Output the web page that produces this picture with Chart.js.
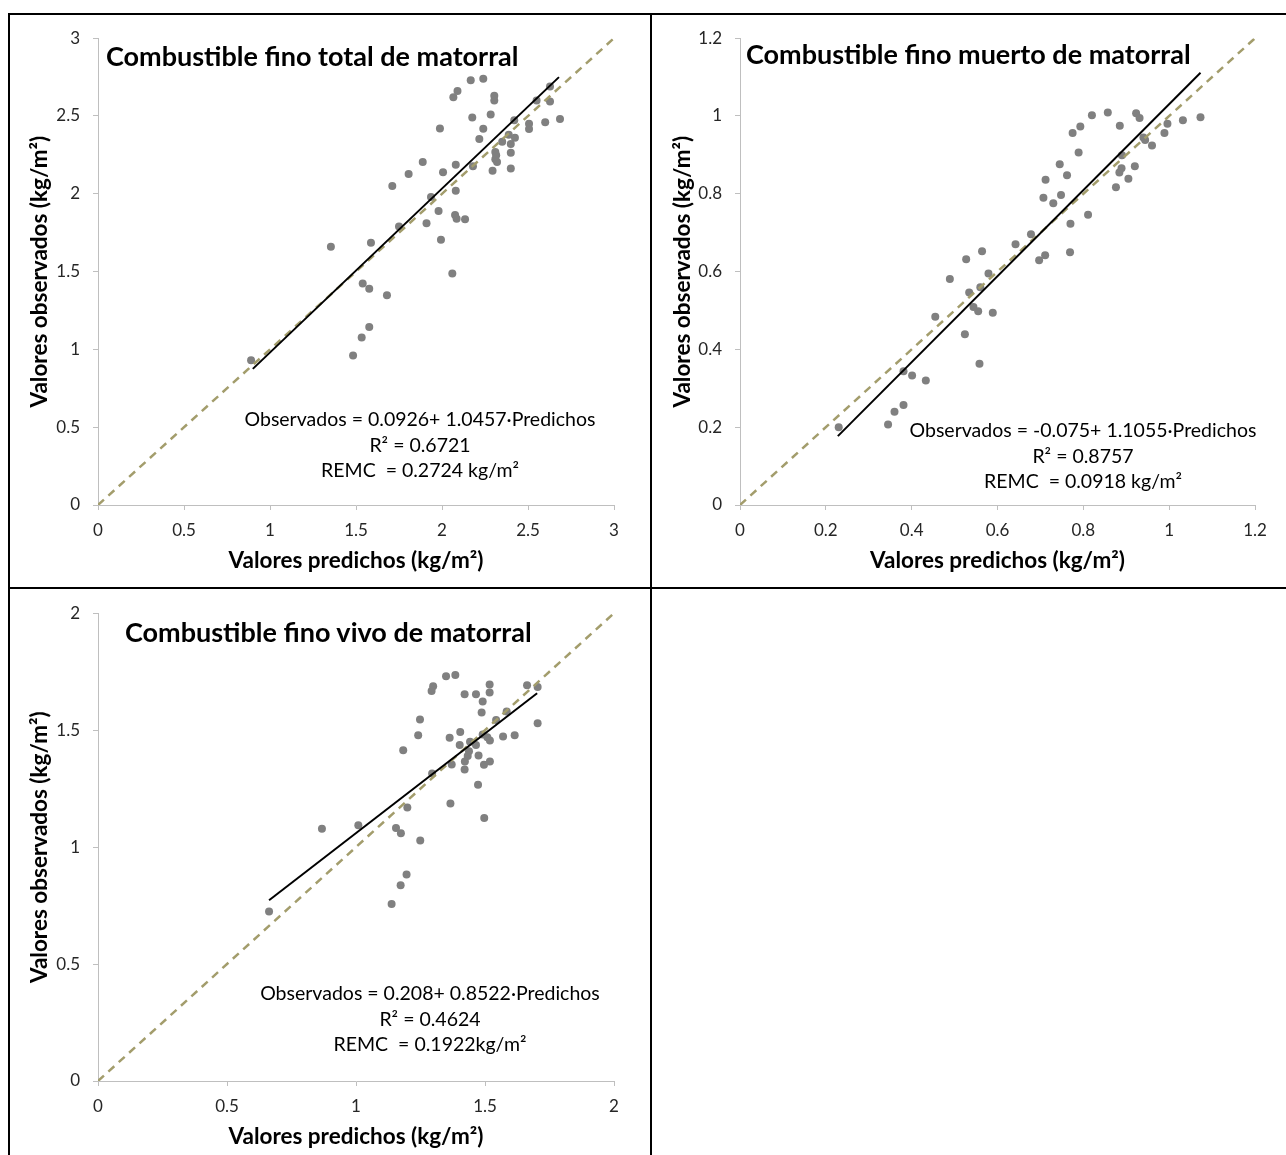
<!DOCTYPE html>
<html lang="es">
<head>
<meta charset="utf-8">
<title>Valores observados vs predichos</title>
<script src="https://cdn.jsdelivr.net/npm/chart.js@4.4.1/dist/chart.umd.min.js"></script>
<style>
  html, body { margin: 0; padding: 0; background: #fff; }
  body { position: relative; width: 1286px; height: 1155px; overflow: hidden;
         font-family: Lato, 'Open Sans', sans-serif; color: #000; }
  .rule  { position: absolute; background: #000; }
  canvas { position: absolute; }
  .title { position: absolute; font-weight: bold; font-size: 27px; line-height: 28px; white-space: nowrap; }
  .eq    { position: absolute; width: 440px; text-align: center; font-size: 19.5px;
           line-height: 25.5px; white-space: pre; }
</style>
</head>
<body>

<!-- table rules -->
<div class="rule" style="left:8px;top:13px;width:1278px;height:2px"></div>
<div class="rule" style="left:8px;top:13px;width:2px;height:1142px"></div>
<div class="rule" style="left:650px;top:13px;width:2px;height:1142px"></div>
<div class="rule" style="left:8px;top:587px;width:1278px;height:2px"></div>

<canvas id="cTotal"  width="640" height="572" style="left:10px;top:15px"></canvas>
<canvas id="cMuerto" width="632" height="572" style="left:653px;top:15px"></canvas>
<canvas id="cVivo"   width="640" height="565" style="left:10px;top:590px"></canvas>

<div class="title" style="left:106px;top:42px">Combustible fino total de matorral</div>
<div class="title" style="left:746px;top:40px">Combustible fino muerto de matorral</div>
<div class="title" style="left:125px;top:618px">Combustible fino vivo de matorral</div>

<div class="eq" style="left:200px;top:406px">Observados = 0.0926+ 1.0457·Predichos
R² = 0.6721
REMC  = 0.2724 kg/m²</div>
<div class="eq" style="left:863px;top:417px">Observados = -0.075+ 1.1055·Predichos
R² = 0.8757
REMC  = 0.0918 kg/m²</div>
<div class="eq" style="left:210px;top:980px">Observados = 0.208+ 0.8522·Predichos
R² = 0.4624
REMC  = 0.1922kg/m²</div>

<script>
/* ═══════════════════════════════════════════════
   Observados vs predichos — combustible fino
═══════════════════════════════════════════════ */

// ── Combustible fino total ────────────────────
const predTotal = [0.89, 1.354, 1.587, 1.539, 1.577, 1.68, 1.483, 1.533, 1.577, 2.06, 1.994, 1.75, 1.91, 1.98,
  1.936, 2.076, 2.085, 2.134, 2.08, 1.711, 1.806, 1.888, 2.006, 2.08, 1.988, 2.066, 2.09, 2.167, 2.24, 2.176,
  2.24, 2.217, 2.283, 2.304, 2.304, 2.18, 2.294, 2.31, 2.315, 2.31, 2.32, 2.35, 2.388, 2.4, 2.424, 2.4, 2.4,
  2.42, 2.506, 2.506, 2.6, 2.55, 2.628, 2.628, 2.686];
const obsTotal  = [0.93, 1.66, 1.685, 1.424, 1.39, 1.348, 0.96, 1.076, 1.144, 1.487, 1.705, 1.79, 1.81, 1.89,
  1.98, 1.863, 1.84, 1.837, 2.02, 2.05, 2.128, 2.204, 2.139, 2.186, 2.42, 2.62, 2.66, 2.73, 2.74, 2.49,
  2.418, 2.352, 2.51, 2.63, 2.6, 2.177, 2.148, 2.268, 2.247, 2.222, 2.204, 2.335, 2.38, 2.32, 2.36, 2.264, 2.163,
  2.473, 2.45, 2.416, 2.46, 2.6, 2.593, 2.69, 2.48];
const fitXTotal   = [0.9, 2.68];
const fitYTotal   = [0.875, 2.75];
const ticksTotal  = [0, 0.5, 1, 1.5, 2, 2.5, 3];

// ── Combustible fino muerto ───────────────────
const predMuerto = [0.23, 0.345, 0.36, 0.381, 0.381, 0.401, 0.433, 0.455, 0.524, 0.489, 0.527, 0.564, 0.534,
  0.544, 0.555, 0.558, 0.589, 0.579, 0.56, 0.642, 0.678, 0.697, 0.711, 0.707, 0.712, 0.73, 0.748, 0.745, 0.762,
  0.769, 0.77, 0.811, 0.789, 0.775, 0.793, 0.82, 0.857, 0.885, 0.876, 0.884, 0.889, 0.905, 0.92, 0.89, 0.923,
  0.931, 0.94, 0.944, 0.96, 0.989, 0.996, 1.032, 1.073];
const obsMuerto  = [0.2, 0.207, 0.24, 0.257, 0.344, 0.333, 0.32, 0.484, 0.439, 0.581, 0.632, 0.652, 0.546,
  0.509, 0.498, 0.363, 0.494, 0.595, 0.56, 0.67, 0.696, 0.629, 0.642, 0.79, 0.836, 0.776, 0.797, 0.876, 0.848,
  0.65, 0.723, 0.746, 0.906, 0.956, 0.973, 1.002, 1.009, 0.975, 0.817, 0.855, 0.866, 0.839, 0.871, 0.899, 1.007,
  0.995, 0.945, 0.938, 0.924, 0.956, 0.98, 0.989, 0.997];
const fitXMuerto  = [0.228, 1.073];
const fitYMuerto  = [0.177, 1.111];
const ticksMuerto = [0, 0.2, 0.4, 0.6, 0.8, 1, 1.2];

// ── Combustible fino vivo ─────────────────────
const predVivo = [0.663, 0.868, 1.009, 1.155, 1.174, 1.199, 1.249, 1.138, 1.173, 1.196, 1.183, 1.241, 1.248,
  1.293, 1.299, 1.349, 1.385, 1.295, 1.366, 1.371, 1.363, 1.404, 1.402, 1.421, 1.465, 1.518, 1.518, 1.491,
  1.487, 1.543, 1.584, 1.57, 1.615, 1.663, 1.704, 1.704, 1.442, 1.465, 1.438, 1.433, 1.422, 1.421, 1.475,
  1.496, 1.519, 1.473, 1.497, 1.491, 1.509, 1.519];
const obsVivo  = [0.725, 1.078, 1.093, 1.082, 1.059, 1.169, 1.028, 0.757, 0.837, 0.883, 1.414, 1.478, 1.546,
  1.667, 1.688, 1.73, 1.736, 1.315, 1.186, 1.353, 1.468, 1.492, 1.436, 1.653, 1.653, 1.695, 1.661, 1.622,
  1.575, 1.543, 1.58, 1.473, 1.478, 1.692, 1.684, 1.53, 1.45, 1.436, 1.41, 1.389, 1.366, 1.332, 1.392,
  1.352, 1.366, 1.267, 1.124, 1.481, 1.47, 1.456];
const fitXVivo  = [0.663, 1.702];
const fitYVivo  = [0.773, 1.658];
const ticksVivo = [0, 0.5, 1, 1.5, 2];

// ── Shared styles ─────────────────────────────
const FONT        = 'Lato, "Open Sans", sans-serif';
const AXIS_GRAY   = '#bfbfbf';
const DOT_GRAY    = '#808080';
const DASH_OLIVE  = '#a39d6c';
const TICK_FONT   = { family: FONT, size: 17 };
const TITLE_FONT  = { family: FONT, size: 22.5, weight: 'bold' };

function toPoints(xs, ys) {
  return xs.map((x, i) => ({ x, y: ys[i] }));
}

function fixedTicks(values) {
  return scale => { scale.ticks = values.map(value => ({ value })); };
}

// ── Panel builder ─────────────────────────────
function buildPanel(canvasId, p) {
  const ctx = document.getElementById(canvasId)?.getContext('2d');
  if (!ctx) return null;
  const max = p.ticks[p.ticks.length - 1];

  return new Chart(ctx, {
    type: 'scatter',
    data: {
      datasets: [
        {
          type: 'line', data: toPoints(p.fitX, p.fitY),
          borderColor: '#000', borderWidth: 2, pointRadius: 0, order: 0,
        },
        {
          type: 'line', data: toPoints([0, max], [0, max]),
          borderColor: DASH_OLIVE, borderWidth: 2.5, borderDash: [8, 6], pointRadius: 0, order: 1,
        },
        {
          data: toPoints(p.pred, p.obs),
          backgroundColor: DOT_GRAY, borderWidth: 0, pointRadius: 4, order: 2,
        },
      ],
    },
    options: {
      responsive: false,
      animation: false,
      events: [],
      layout: { padding: { top: p.padTop, right: p.padRight, bottom: 0, left: 0 } },
      plugins: { legend: { display: false }, tooltip: { enabled: false } },
      scales: {
        x: {
          type: 'linear', min: 0, max,
          afterBuildTicks: fixedTicks(p.ticks),
          afterFit: scale => { scale.height = p.xHeight; },
          grid: { drawOnChartArea: false, drawTicks: true, tickLength: 5, color: AXIS_GRAY },
          border: { color: AXIS_GRAY, width: 1 },
          ticks: { color: '#262626', font: TICK_FONT, padding: 10, maxRotation: 0, callback: v => String(v) },
          title: { display: true, text: 'Valores predichos (kg/m²)', color: '#000', font: TITLE_FONT,
                   padding: { top: 0, bottom: p.xTitlePad } },
        },
        y: {
          type: 'linear', min: 0, max,
          afterBuildTicks: fixedTicks(p.ticks),
          afterFit: scale => { scale.width = p.yWidth; },
          grid: { drawOnChartArea: false, drawTicks: true, tickLength: 5, color: AXIS_GRAY },
          border: { color: AXIS_GRAY, width: 1 },
          ticks: { color: '#262626', font: TICK_FONT, padding: 13, callback: v => String(v) },
          title: { display: true, text: 'Valores observados (kg/m²)', color: '#000', font: TITLE_FONT,
                   padding: { top: 16.5, bottom: 0 } },
        },
      },
    },
  });
}

buildPanel('cTotal', {
  pred: predTotal, obs: obsTotal, fitX: fitXTotal, fitY: fitYTotal, ticks: ticksTotal,
  padTop: 16, padRight: 36, yWidth: 88, xHeight: 82, xTitlePad: 12.5,
});
buildPanel('cMuerto', {
  pred: predMuerto, obs: obsMuerto, fitX: fitXMuerto, fitY: fitYMuerto, ticks: ticksMuerto,
  padTop: 16, padRight: 30, yWidth: 87, xHeight: 82, xTitlePad: 12.5,
});
buildPanel('cVivo', {
  pred: predVivo, obs: obsVivo, fitX: fitXVivo, fitY: fitYVivo, ticks: ticksVivo,
  padTop: 17, padRight: 36, yWidth: 88, xHeight: 74, xTitlePad: 4.5,
});
</script>
</body>
</html>
